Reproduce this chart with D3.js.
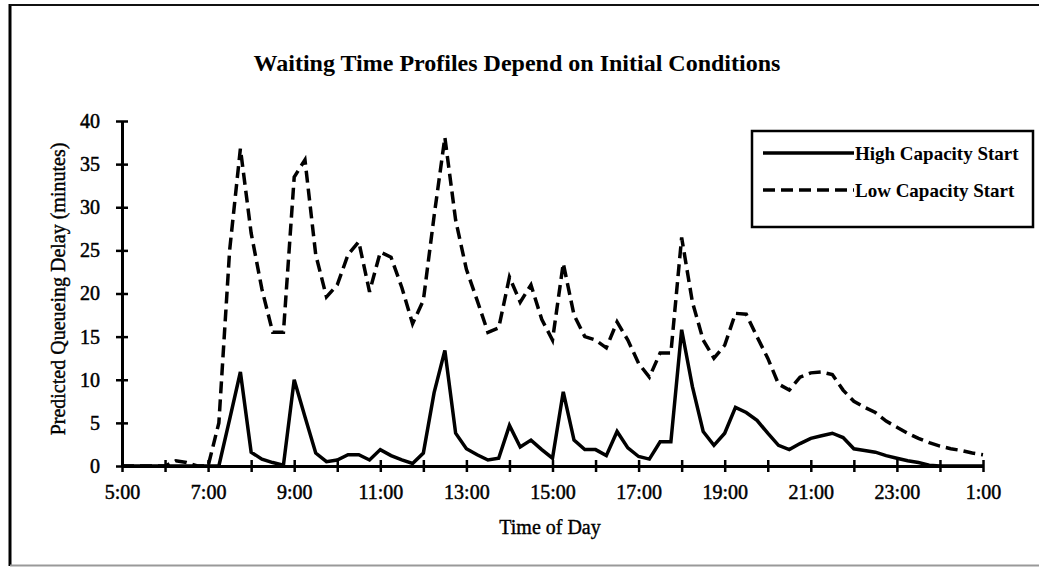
<!DOCTYPE html>
<html>
<head>
<meta charset="utf-8">
<script src="https://cdn.jsdelivr.net/npm/d3@7"></script>
<style>
  body { margin: 0; background: #fff; }
  svg { display: block; }
  text { font-family: "Liberation Serif", "Times New Roman", serif; fill: #000; }
</style>
</head>
<body>
<div id="chart"></div>
<script>
const width = 1039;
const height = 567;

// quarter-hour samples, 5:00 in the morning to 1:00 the next night
const times = [
  "5:00", "5:15", "5:30", "5:45", "6:00", "6:15", "6:30", "6:45",
  "7:00", "7:15", "7:30", "7:45", "8:00", "8:15", "8:30", "8:45",
  "9:00", "9:15", "9:30", "9:45", "10:00", "10:15", "10:30", "10:45",
  "11:00", "11:15", "11:30", "11:45", "12:00", "12:15", "12:30", "12:45",
  "13:00", "13:15", "13:30", "13:45", "14:00", "14:15", "14:30", "14:45",
  "15:00", "15:15", "15:30", "15:45", "16:00", "16:15", "16:30", "16:45",
  "17:00", "17:15", "17:30", "17:45", "18:00", "18:15", "18:30", "18:45",
  "19:00", "19:15", "19:30", "19:45", "20:00", "20:15", "20:30", "20:45",
  "21:00", "21:15", "21:30", "21:45", "22:00", "22:15", "22:30", "22:45",
  "23:00", "23:15", "23:30", "23:45", "0:00", "0:15", "0:30", "0:45", "1:00"
];

const highCapacity = [
  0, 0, 0, 0, 0, 0, 0, 0,
  0, 0, 5.4, 10.9, 1.6, 0.8, 0.4, 0.1,
  10, 5.7, 1.5, 0.5, 0.7, 1.3, 1.3, 0.7,
  1.9, 1.2, 0.7, 0.3, 1.5, 8.5, 13.4, 3.8,
  2.0, 1.3, 0.7, 0.9, 4.7, 2.2, 3.0, 1.9,
  0.9, 8.6, 3.0, 1.9, 1.9, 1.2, 4.0, 2.1,
  1.1, 0.8, 2.8, 2.8, 15.8, 9.2, 4.0, 2.4,
  3.8, 6.8, 6.2, 5.3, 3.8, 2.4, 1.9, 2.6,
  3.2, 3.5, 3.8, 3.3, 2.0, 1.8, 1.6, 1.2,
  0.9, 0.6, 0.4, 0.1, 0, 0, 0, 0, 0
];

const lowCapacity = [
  0, 0, 0, 0, 0, 0.6, 0.4, 0,
  0, 5, 25, 36.8, 27, 20.5, 15.5, 15.5,
  33.5, 35.5, 24.5, 19.6, 21, 24.5, 26, 20.2,
  24.8, 24.2, 20.7, 16.5, 19.2, 29, 38.1, 28.5,
  22.8, 19.2, 15.5, 16.0, 21.9, 19.0, 21.0, 17.0,
  14.6, 23.5, 17.5, 15.0, 14.6, 13.7, 16.7, 14.6,
  11.9, 10.3, 13.1, 13.1, 26.5, 19.0, 14.6, 12.5,
  14.0, 17.7, 17.6, 15.0, 12.5, 9.5, 8.8, 10.3,
  10.8, 10.9, 10.6, 8.8, 7.5, 6.8, 6.2, 5.2,
  4.5, 3.8, 3.2, 2.7, 2.3, 2.0, 1.8, 1.5, 1.3
];

const xTickLabels = ["5:00", "7:00", "9:00", "11:00", "13:00", "15:00", "17:00", "19:00", "21:00", "23:00", "1:00"];
const yTicks = [0, 5, 10, 15, 20, 25, 30, 35, 40];
const seriesNames = ["High Capacity Start", "Low Capacity Start"];

// clock string -> hours past midnight, after-midnight times run on past 24
function toHours(s) {
  let [h, m] = s.split(':').map(Number);
  if (h < 5) h += 24;
  return h + m / 60;
}

const x = d3.scaleLinear().domain([5, 25]).range([122, 983]);
const y = d3.scaleLinear().domain([0, 40]).range([466, 121]);

const svg = d3.select('#chart')
  .append('svg')
  .attr('width', width)
  .attr('height', height);

// outer frame (scanned page border)
svg.append('line')
  .attr('x1', 10).attr('x2', 10).attr('y1', 4).attr('y2', 566)
  .attr('stroke', '#000').attr('stroke-width', 3);
svg.append('line')
  .attr('x1', 10).attr('x2', width).attr('y1', 5).attr('y2', 5)
  .attr('stroke', '#111').attr('stroke-width', 2);
svg.append('line')
  .attr('x1', 10).attr('x2', width).attr('y1', 565.5).attr('y2', 565.5)
  .attr('stroke', '#999').attr('stroke-width', 2);

// title
svg.append('text')
  .attr('x', 517)
  .attr('y', 71)
  .attr('text-anchor', 'middle')
  .style('font-size', '24px')
  .style('font-weight', 'bold')
  .text('Waiting Time Profiles Depend on Initial Conditions');

// series lines
const line = d3.line()
  .x((d, i) => x(toHours(times[i])))
  .y(d => y(d));

svg.append('path')
  .datum(lowCapacity)
  .attr('d', line)
  .attr('fill', 'none')
  .attr('stroke', '#000')
  .attr('stroke-width', 3.5)
  .attr('stroke-dasharray', '12,6')
  .attr('stroke-linejoin', 'miter');

svg.append('path')
  .datum(highCapacity)
  .attr('d', line)
  .attr('fill', 'none')
  .attr('stroke', '#000')
  .attr('stroke-width', 3.5)
  .attr('stroke-linejoin', 'miter');

// axes
const hourTicks = d3.range(5, 26);
const xAxis = d3.axisBottom(x)
  .tickValues(hourTicks)
  .tickSize(6)
  .tickSizeOuter(0)
  .tickPadding(13)
  .tickFormat(h => {
    const lab = xTickLabels.find(l => toHours(l) === h);
    return lab || '';
  });

const gx = svg.append('g')
  .attr('transform', `translate(0, ${y(0)})`)
  .call(xAxis);
gx.select('.domain').attr('stroke-width', 3);
gx.selectAll('.tick line').attr('y1', -6).attr('stroke-width', 2.5);
gx.selectAll('.tick text')
  .style('font-size', '20px')
  .style('font-family', '"Liberation Serif", "Times New Roman", serif')
  .attr('stroke', '#000')
  .attr('stroke-width', 0.5);

const yAxis = d3.axisLeft(y)
  .tickValues(yTicks)
  .tickSize(6)
  .tickSizeOuter(0)
  .tickPadding(16);

const gy = svg.append('g')
  .attr('transform', `translate(${x(5)}, 0)`)
  .call(yAxis);
gy.select('.domain').attr('stroke-width', 3);
gy.selectAll('.tick line').attr('x1', 6).attr('stroke-width', 2.5);
gy.selectAll('.tick text')
  .style('font-size', '20px')
  .style('font-family', '"Liberation Serif", "Times New Roman", serif')
  .attr('stroke', '#000')
  .attr('stroke-width', 0.5);

// axis titles
svg.append('text')
  .attr('x', 550)
  .attr('y', 534)
  .attr('text-anchor', 'middle')
  .attr('stroke', '#000')
  .attr('stroke-width', 0.4)
  .style('font-size', '20px')
  .text('Time of Day');

svg.append('text')
  .attr('transform', 'translate(65, 289) rotate(-90)')
  .attr('text-anchor', 'middle')
  .attr('stroke', '#000')
  .attr('stroke-width', 0.4)
  .style('font-size', '20px')
  .text('Predicted Queueing Delay (minutes)');

// legend
const legend = svg.append('g');
legend.append('rect')
  .attr('x', 752).attr('y', 131)
  .attr('width', 281).attr('height', 96)
  .attr('fill', '#fff')
  .attr('stroke', '#000')
  .attr('stroke-width', 2.5);

const legendRows = [
  { name: seriesNames[0], dash: null, y: 153 },
  { name: seriesNames[1], dash: '12,6', y: 190 }
];

legendRows.forEach(r => {
  legend.append('line')
    .attr('x1', 763).attr('x2', 854)
    .attr('y1', r.y).attr('y2', r.y)
    .attr('stroke', '#000')
    .attr('stroke-width', 3.5)
    .attr('stroke-dasharray', r.dash);
  legend.append('text')
    .attr('x', 855)
    .attr('y', r.y + 7)
    .style('font-size', '19px')
    .style('font-weight', 'bold')
    .text(r.name);
});
</script>
</body>
</html>
